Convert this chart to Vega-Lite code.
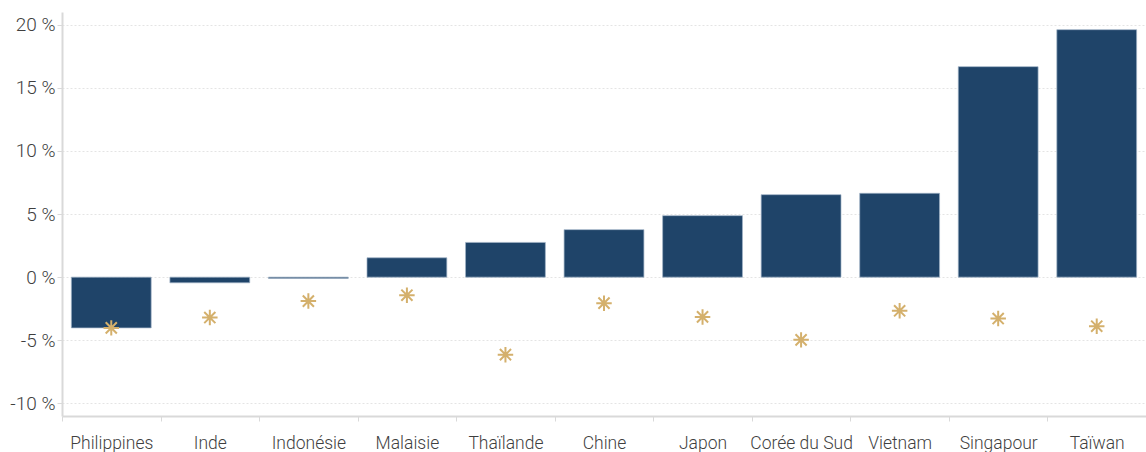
{
  "$schema": "https://vega.github.io/schema/vega-lite/v6.json",
  "width": 1084,
  "height": 404,
  "autosize": {"type": "none"},
  "padding": {"left": 62, "top": 12, "right": 0, "bottom": 36},
  "background": "white",
  "config": {
    "view": {"stroke": null},
    "font": "Roboto",
    "axis": {"labelFont": "Roboto", "labelFontWeight": 300, "labelColor": "#3f3f3f"}
  },
  "data": {
    "values": [
      {"pays": "Philippines", "valeur": -4.02, "etoile": -4.02},
      {"pays": "Inde", "valeur": -0.45, "etoile": -3.2},
      {"pays": "Indonésie", "valeur": -0.1, "etoile": -1.9},
      {"pays": "Malaisie", "valeur": 1.53, "etoile": -1.43},
      {"pays": "Thaïlande", "valeur": 2.75, "etoile": -6.14},
      {"pays": "Chine", "valeur": 3.76, "etoile": -2.06},
      {"pays": "Japon", "valeur": 4.87, "etoile": -3.15},
      {"pays": "Corée du Sud", "valeur": 6.53, "etoile": -4.97},
      {"pays": "Vietnam", "valeur": 6.64, "etoile": -2.67},
      {"pays": "Singapour", "valeur": 16.67, "etoile": -3.28},
      {"pays": "Taïwan", "valeur": 19.6, "etoile": -3.89}
    ]
  },
  "encoding": {
    "x": {
      "field": "pays",
      "type": "nominal",
      "sort": null,
      "scale": {"paddingInner": 0, "paddingOuter": 0},
      "axis": {
        "title": null,
        "labelAngle": 0,
        "labelFontSize": 17.5,
        "labelPadding": 13,
        "tickBand": "extent",
        "tickSize": 5,
        "tickColor": "#d9d9d9",
        "domainColor": "#d9d9d9",
        "domainWidth": 2,
        "grid": false
      }
    }
  },
  "layer": [
    {
      "mark": {"type": "bar", "width": {"band": 0.81}, "color": "#1f4469", "stroke": "#9fb2c6", "strokeWidth": 0.7},
      "encoding": {
        "y": {
          "field": "valeur",
          "type": "quantitative",
          "scale": {"domain": [-11, 21], "nice": false, "zero": false},
          "axis": {
            "title": null,
            "values": [-10, -5, 0, 5, 10, 15, 20],
            "labelExpr": "datum.value + ' %'",
            "labelFontSize": 19,
            "labelPadding": 2,
            "tickSize": 5,
            "tickColor": "#d9d9d9",
            "domainColor": "#d9d9d9",
            "domainWidth": 2,
            "grid": true,
            "gridColor": "#e4e4e4",
            "gridDash": [2, 2],
            "gridWidth": 1
          }
        }
      }
    },
    {
      "mark": {
        "type": "point",
        "shape": "M0,-1L0,1M-1,0L1,0M-0.72,-0.72L0.72,0.72M-0.72,0.72L0.72,-0.72",
        "filled": false,
        "stroke": "#d4b06c",
        "strokeWidth": 2,
        "opacity": 1,
        "size": 240
      },
      "encoding": {
        "y": {"field": "etoile", "type": "quantitative"}
      }
    }
  ]
}
